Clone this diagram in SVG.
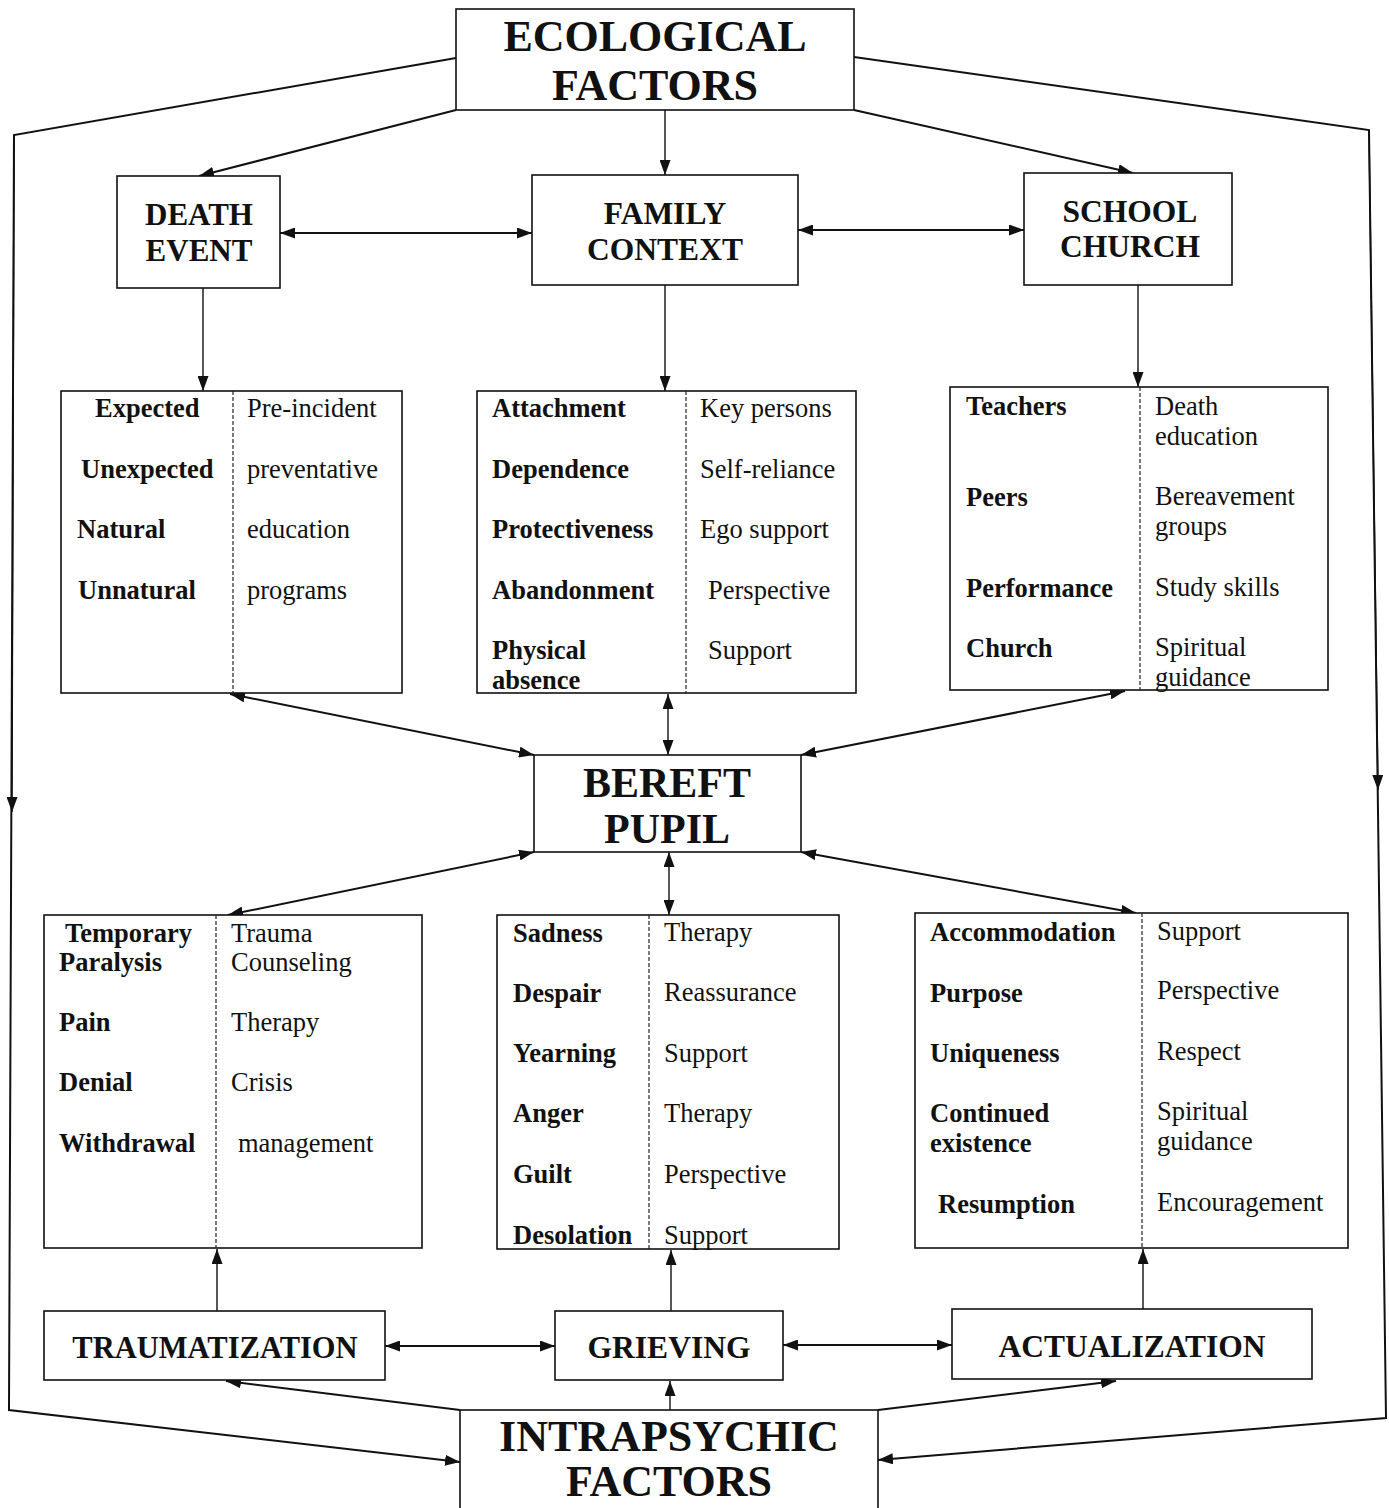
<svg xmlns="http://www.w3.org/2000/svg" width="1389" height="1508" viewBox="0 0 1389 1508">
<style>
.box{fill:#fff;stroke:#111;stroke-width:1.6}
.div{stroke:#222;stroke-width:1.2;stroke-dasharray:4,2}
.h{font-family:"Liberation Serif",serif;font-weight:bold;fill:#111;text-anchor:middle}
.b{font-family:"Liberation Serif",serif;font-weight:bold;font-size:26.5px;fill:#111}
.r{font-family:"Liberation Serif",serif;font-size:26.5px;fill:#111}
.c{fill:none;stroke:#111;stroke-width:2}
.t{fill:none;stroke:#111;stroke-width:1.4}
</style>
<defs>
<marker id="a" markerUnits="userSpaceOnUse" markerWidth="15" markerHeight="11" refX="15" refY="5.5" orient="auto-start-reverse">
<path d="M0,0 L15,5.5 L0,11 z" fill="#111"/>
</marker>
</defs>
<rect width="1389" height="1508" fill="#fff"/>
<g id="connectors">
<polyline class="c" points="456,58 14,135 9,1410 460,1462" marker-end="url(#a)"/>
<line class="t" x1="14" y1="135" x2="12" y2="812" marker-end="url(#a)"/>
<polyline class="c" points="854,57 1369,130 1386,1418 878,1460" marker-end="url(#a)"/>
<line class="t" x1="1369" y1="130" x2="1378" y2="790" marker-end="url(#a)"/>
<line class="c" x1="456" y1="110" x2="199" y2="176" marker-end="url(#a)"/>
<line class="t" x1="665" y1="110" x2="665" y2="175" marker-end="url(#a)"/>
<line class="c" x1="854" y1="110" x2="1133" y2="173" marker-end="url(#a)"/>
<line class="c" x1="280" y1="233" x2="532" y2="233" marker-start="url(#a)" marker-end="url(#a)"/>
<line class="c" x1="798" y1="230" x2="1024" y2="230" marker-start="url(#a)" marker-end="url(#a)"/>
<line class="t" x1="203" y1="288" x2="203" y2="391" marker-end="url(#a)"/>
<line class="t" x1="665" y1="285" x2="665" y2="391" marker-end="url(#a)"/>
<line class="t" x1="1138" y1="285" x2="1138" y2="387" marker-end="url(#a)"/>
<line class="c" x1="230" y1="694" x2="534" y2="755" marker-start="url(#a)" marker-end="url(#a)"/>
<line class="t" x1="668" y1="694" x2="668" y2="755" marker-start="url(#a)" marker-end="url(#a)"/>
<line class="c" x1="1125" y1="691" x2="801" y2="755" marker-start="url(#a)" marker-end="url(#a)"/>
<line class="c" x1="534" y1="852" x2="228" y2="915" marker-start="url(#a)" marker-end="url(#a)"/>
<line class="t" x1="669" y1="852" x2="669" y2="915" marker-start="url(#a)" marker-end="url(#a)"/>
<line class="c" x1="801" y1="852" x2="1136" y2="913" marker-start="url(#a)" marker-end="url(#a)"/>
<line class="t" x1="217" y1="1311" x2="217" y2="1249" marker-end="url(#a)"/>
<line class="t" x1="671" y1="1311" x2="671" y2="1250" marker-end="url(#a)"/>
<line class="t" x1="1143" y1="1309" x2="1143" y2="1249" marker-end="url(#a)"/>
<line class="c" x1="385" y1="1346" x2="555" y2="1346" marker-start="url(#a)" marker-end="url(#a)"/>
<line class="c" x1="783" y1="1345" x2="952" y2="1345" marker-start="url(#a)" marker-end="url(#a)"/>
<line class="c" x1="460" y1="1410" x2="226" y2="1381" marker-end="url(#a)"/>
<line class="t" x1="670" y1="1410" x2="670" y2="1381" marker-end="url(#a)"/>
<line class="c" x1="878" y1="1410" x2="1116" y2="1381" marker-end="url(#a)"/>
</g>
<g id="ecological">
<rect class="box" x="456" y="9" width="398" height="101"/>
<text class="h" x="655" y="51" font-size="44">ECOLOGICAL</text>
<text class="h" x="655" y="100" font-size="44">FACTORS</text>
</g>
<g id="death-event">
<rect class="box" x="117" y="176" width="163" height="112"/>
<text class="h" x="199" y="225" font-size="31">DEATH</text>
<text class="h" x="199" y="261" font-size="31">EVENT</text>
</g>
<g id="family-context">
<rect class="box" x="532" y="175" width="266" height="110"/>
<text class="h" x="665" y="224" font-size="31.5">FAMILY</text>
<text class="h" x="665" y="260" font-size="31.5">CONTEXT</text>
</g>
<g id="school-church">
<rect class="box" x="1024" y="173" width="208" height="112"/>
<text class="h" x="1130" y="222" font-size="31.5">SCHOOL</text>
<text class="h" x="1130" y="257" font-size="31.5">CHURCH</text>
</g>
<g id="death-details">
<rect class="box" x="61" y="391" width="341" height="302"/>
<line class="div" x1="233" y1="391" x2="233" y2="693"/>
<text class="b" x="95" y="417">Expected</text>
<text class="b" x="81" y="478">Unexpected</text>
<text class="b" x="77" y="538">Natural</text>
<text class="b" x="78" y="599">Unnatural</text>
<text class="r" x="247" y="417">Pre-incident</text>
<text class="r" x="247" y="478">preventative</text>
<text class="r" x="247" y="538">education</text>
<text class="r" x="247" y="599">programs</text>
</g>
<g id="family-details">
<rect class="box" x="477" y="391" width="379" height="302"/>
<line class="div" x1="686" y1="391" x2="686" y2="693"/>
<text class="b" x="492" y="417">Attachment</text>
<text class="b" x="492" y="478">Dependence</text>
<text class="b" x="492" y="538">Protectiveness</text>
<text class="b" x="492" y="599">Abandonment</text>
<text class="b" x="492" y="659">Physical</text>
<text class="b" x="492" y="689">absence</text>
<text class="r" x="700" y="417">Key persons</text>
<text class="r" x="700" y="478">Self-reliance</text>
<text class="r" x="700" y="538">Ego support</text>
<text class="r" x="708" y="599">Perspective</text>
<text class="r" x="708" y="659">Support</text>
</g>
<g id="school-details">
<rect class="box" x="950" y="387" width="378" height="303"/>
<line class="div" x1="1140" y1="387" x2="1140" y2="690"/>
<text class="b" x="966" y="415">Teachers</text>
<text class="b" x="966" y="506">Peers</text>
<text class="b" x="966" y="597">Performance</text>
<text class="b" x="966" y="657">Church</text>
<text class="r" x="1155" y="415">Death</text>
<text class="r" x="1155" y="445">education</text>
<text class="r" x="1155" y="505">Bereavement</text>
<text class="r" x="1155" y="535">groups</text>
<text class="r" x="1155" y="596">Study skills</text>
<text class="r" x="1155" y="656">Spiritual</text>
<text class="r" x="1155" y="686">guidance</text>
</g>
<g id="bereft-pupil">
<rect class="box" x="534" y="755" width="267" height="97"/>
<text class="h" x="667" y="797" font-size="42">BEREFT</text>
<text class="h" x="667" y="843" font-size="42">PUPIL</text>
</g>
<g id="trauma-details">
<rect class="box" x="44" y="915" width="378" height="333"/>
<line class="div" x1="216" y1="915" x2="216" y2="1248"/>
<text class="b" x="65" y="942">Temporary</text>
<text class="b" x="59" y="971">Paralysis</text>
<text class="b" x="59" y="1031">Pain</text>
<text class="b" x="59" y="1091">Denial</text>
<text class="b" x="59" y="1152">Withdrawal</text>
<text class="r" x="231" y="942">Trauma</text>
<text class="r" x="231" y="971">Counseling</text>
<text class="r" x="231" y="1031">Therapy</text>
<text class="r" x="231" y="1091">Crisis</text>
<text class="r" x="238" y="1152">management</text>
</g>
<g id="grieving-details">
<rect class="box" x="497" y="915" width="342" height="334"/>
<line class="div" x1="649" y1="915" x2="649" y2="1249"/>
<text class="b" x="513" y="942">Sadness</text>
<text class="b" x="513" y="1002">Despair</text>
<text class="b" x="513" y="1062">Yearning</text>
<text class="b" x="513" y="1122">Anger</text>
<text class="b" x="513" y="1183">Guilt</text>
<text class="b" x="513" y="1244">Desolation</text>
<text class="r" x="664" y="941">Therapy</text>
<text class="r" x="664" y="1001">Reassurance</text>
<text class="r" x="664" y="1062">Support</text>
<text class="r" x="664" y="1122">Therapy</text>
<text class="r" x="664" y="1183">Perspective</text>
<text class="r" x="664" y="1244">Support</text>
</g>
<g id="actualization-details">
<rect class="box" x="915" y="913" width="433" height="335"/>
<line class="div" x1="1142" y1="913" x2="1142" y2="1248"/>
<text class="b" x="930" y="941">Accommodation</text>
<text class="b" x="930" y="1002">Purpose</text>
<text class="b" x="930" y="1062">Uniqueness</text>
<text class="b" x="930" y="1122">Continued</text>
<text class="b" x="930" y="1152">existence</text>
<text class="b" x="938" y="1213">Resumption</text>
<text class="r" x="1157" y="940">Support</text>
<text class="r" x="1157" y="999">Perspective</text>
<text class="r" x="1157" y="1060">Respect</text>
<text class="r" x="1157" y="1120">Spiritual</text>
<text class="r" x="1157" y="1150">guidance</text>
<text class="r" x="1157" y="1211">Encouragement</text>
</g>
<g id="traumatization">
<rect class="box" x="44" y="1311" width="341" height="69"/>
<text class="h" x="215" y="1358" font-size="30.5">TRAUMATIZATION</text>
</g>
<g id="grieving">
<rect class="box" x="555" y="1311" width="228" height="69"/>
<text class="h" x="669" y="1358" font-size="31.5">GRIEVING</text>
</g>
<g id="actualization">
<rect class="box" x="952" y="1309" width="360" height="70"/>
<text class="h" x="1132" y="1357" font-size="31.5">ACTUALIZATION</text>
</g>
<g id="intrapsychic">
<rect class="box" x="460" y="1410" width="418" height="110"/>
<text class="h" x="669" y="1451" font-size="44">INTRAPSYCHIC</text>
<text class="h" x="669" y="1496" font-size="44">FACTORS</text>
</g>
</svg>
